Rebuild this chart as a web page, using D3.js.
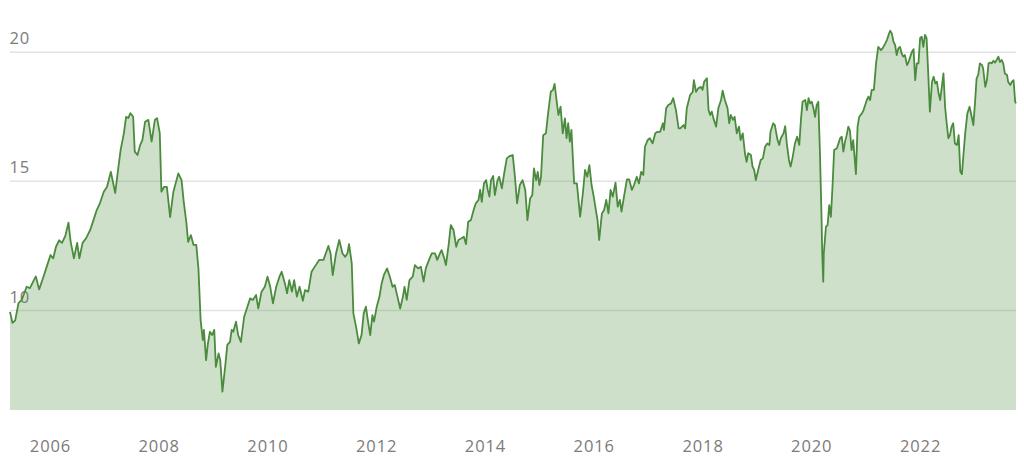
<!DOCTYPE html>
<html>
<head>
<meta charset="utf-8">
<script src="https://cdn.jsdelivr.net/npm/d3@7"></script>
<style>
  html, body { margin: 0; padding: 0; background: #ffffff; }
  svg { display: block; }
  .lbl { font-family: "Open Sans", "Noto Sans", sans-serif; font-size: 16.5px; fill: #7b7b7b; letter-spacing: 0.9px; }
</style>
</head>
<body>
<svg id="chart" width="1024" height="462"></svg>
<script>
// Decimal years of each observation
const dates = [
  2005.264, 2005.31, 2005.36, 2005.42, 2005.48, 2005.57, 2005.63, 2005.69, 2005.74, 2005.80, 2005.88, 2005.94,
  2006.01, 2006.06, 2006.11, 2006.17, 2006.22, 2006.28, 2006.34, 2006.38, 2006.44, 2006.50, 2006.54, 2006.60,
  2006.67, 2006.74, 2006.80, 2006.86, 2006.92, 2006.99, 2007.05, 2007.12, 2007.20, 2007.26, 2007.30, 2007.36,
  2007.40, 2007.44, 2007.48, 2007.53, 2007.56, 2007.61, 2007.66, 2007.70, 2007.75, 2007.81, 2007.87, 2007.93,
  2007.97, 2008.02, 2008.05, 2008.10, 2008.15, 2008.21, 2008.27, 2008.36, 2008.42, 2008.46, 2008.51, 2008.54,
  2008.59, 2008.64, 2008.69, 2008.73, 2008.77, 2008.81, 2008.83, 2008.87, 2008.90, 2008.94, 2008.98, 2009.02,
  2009.05, 2009.10, 2009.13, 2009.17, 2009.22, 2009.26, 2009.31, 2009.34, 2009.37, 2009.42, 2009.46, 2009.51,
  2009.57, 2009.63, 2009.68, 2009.73, 2009.79, 2009.83, 2009.89, 2009.95, 2010.00, 2010.05, 2010.10, 2010.16,
  2010.22, 2010.26, 2010.32, 2010.36, 2010.40, 2010.45, 2010.49, 2010.54, 2010.59, 2010.65, 2010.69, 2010.75,
  2010.81, 2010.87, 2010.95, 2011.03, 2011.12, 2011.16, 2011.20, 2011.26, 2011.32, 2011.38, 2011.43, 2011.47,
  2011.50, 2011.55, 2011.58, 2011.63, 2011.68, 2011.73, 2011.77, 2011.81, 2011.85, 2011.89, 2011.93, 2011.96,
  2012.01, 2012.06, 2012.10, 2012.14, 2012.20, 2012.25, 2012.30, 2012.34, 2012.39, 2012.44, 2012.49, 2012.52,
  2012.56, 2012.61, 2012.67, 2012.71, 2012.77, 2012.82, 2012.87, 2012.91, 2012.98, 2013.02, 2013.08, 2013.12,
  2013.17, 2013.20, 2013.25, 2013.28, 2013.33, 2013.37, 2013.42, 2013.47, 2013.51, 2013.56, 2013.61, 2013.65,
  2013.69, 2013.74, 2013.79, 2013.83, 2013.88, 2013.91, 2013.94, 2013.98, 2014.02, 2014.05, 2014.08, 2014.11,
  2014.15, 2014.18, 2014.23, 2014.26, 2014.31, 2014.35, 2014.40, 2014.45, 2014.51, 2014.55, 2014.59, 2014.64,
  2014.69, 2014.74, 2014.78, 2014.83, 2014.87, 2014.90, 2014.94, 2014.97, 2015.00, 2015.03, 2015.07, 2015.12,
  2015.16, 2015.21, 2015.25, 2015.28, 2015.32, 2015.35, 2015.39, 2015.43, 2015.47, 2015.50, 2015.53, 2015.56,
  2015.59, 2015.64, 2015.69, 2015.75, 2015.80, 2015.84, 2015.88, 2015.92, 2015.96, 2016.00, 2016.04, 2016.07,
  2016.10, 2016.15, 2016.19, 2016.23, 2016.27, 2016.31, 2016.35, 2016.40, 2016.44, 2016.48, 2016.51, 2016.56,
  2016.61, 2016.65, 2016.70, 2016.74, 2016.79, 2016.83, 2016.87, 2016.91, 2016.94, 2016.99, 2017.03, 2017.08,
  2017.13, 2017.17, 2017.22, 2017.27, 2017.29, 2017.33, 2017.37, 2017.42, 2017.46, 2017.51, 2017.56, 2017.59,
  2017.65, 2017.68, 2017.71, 2017.77, 2017.82, 2017.84, 2017.88, 2017.92, 2017.97, 2018.00, 2018.03, 2018.08,
  2018.11, 2018.14, 2018.17, 2018.20, 2018.25, 2018.29, 2018.34, 2018.37, 2018.41, 2018.46, 2018.49, 2018.52,
  2018.56, 2018.59, 2018.63, 2018.67, 2018.70, 2018.74, 2018.78, 2018.81, 2018.84, 2018.89, 2018.92, 2018.95,
  2018.98, 2019.03, 2019.07, 2019.11, 2019.15, 2019.19, 2019.23, 2019.25, 2019.30, 2019.33, 2019.38, 2019.41,
  2019.44, 2019.49, 2019.52, 2019.55, 2019.59, 2019.62, 2019.66, 2019.70, 2019.74, 2019.78, 2019.81, 2019.84,
  2019.89, 2019.92, 2019.95, 2019.98, 2020.01, 2020.04, 2020.07, 2020.10, 2020.13, 2020.16, 2020.19, 2020.20,
  2020.22, 2020.23, 2020.27, 2020.30, 2020.33, 2020.36, 2020.39, 2020.42, 2020.47, 2020.50, 2020.53, 2020.56,
  2020.59, 2020.62, 2020.65, 2020.68, 2020.71, 2020.74, 2020.77, 2020.82, 2020.85, 2020.88, 2020.93, 2020.96,
  2020.99, 2021.02, 2021.05, 2021.08, 2021.11, 2021.15, 2021.19, 2021.23, 2021.28, 2021.31, 2021.36, 2021.39,
  2021.42, 2021.45, 2021.48, 2021.51, 2021.54, 2021.57, 2021.60, 2021.63, 2021.66, 2021.69, 2021.72, 2021.76,
  2021.79, 2021.82, 2021.85, 2021.88, 2021.91, 2021.94, 2021.97, 2022.00, 2022.03, 2022.06, 2022.09, 2022.12,
  2022.15, 2022.18, 2022.22, 2022.25, 2022.28, 2022.31, 2022.34, 2022.37, 2022.40, 2022.43, 2022.46, 2022.49,
  2022.52, 2022.55, 2022.58, 2022.61, 2022.64, 2022.68, 2022.71, 2022.74, 2022.77, 2022.80, 2022.83, 2022.87,
  2022.91, 2022.95, 2022.98, 2023.01, 2023.04, 2023.07, 2023.10, 2023.14, 2023.16, 2023.20, 2023.23, 2023.26,
  2023.29, 2023.32, 2023.35, 2023.38, 2023.41, 2023.44, 2023.47, 2023.50, 2023.53, 2023.56, 2023.60, 2023.62,
  2023.66, 2023.69, 2023.72, 2023.75, 2023.765
];

const values = [
  9.93, 9.5, 9.6, 10.27, 10.39, 10.9, 10.85, 11.1, 11.3, 10.8, 11.29, 11.68,
  12.13, 12.0, 12.45, 12.7, 12.6, 12.86, 13.38, 12.65, 12.0, 12.6, 12.0, 12.6,
  12.8, 13.1, 13.48, 13.87, 14.14, 14.58, 14.77, 15.35, 14.53, 15.55, 16.2, 16.85,
  17.48, 17.43, 17.62, 17.48, 16.13, 16.0, 16.39, 16.58, 17.29, 17.36, 16.52, 17.36,
  17.43, 16.85, 14.58, 14.77, 14.77, 13.6, 14.58, 15.29, 15.03, 14.19, 13.35, 12.64,
  12.9, 12.52, 12.52, 11.6, 9.6, 8.84, 9.23, 8.06, 8.65, 9.16, 9.03, 9.23,
  7.8, 8.32, 8.06, 6.84, 7.8, 8.65, 8.77, 9.23, 9.16, 9.55, 9.03, 8.77,
  9.74, 10.13, 10.45, 10.39, 10.58, 10.06, 10.71, 10.9, 11.29, 10.9, 10.26, 10.9,
  11.29, 11.48, 11.03, 10.65, 11.16, 10.71, 11.16, 10.52, 10.9, 10.36, 10.77, 10.71,
  11.48, 11.68, 11.94, 11.94, 12.48, 12.19, 11.35, 12.19, 12.71, 12.19, 12.06, 12.19,
  12.55, 11.81, 9.87, 9.35, 8.71, 9.03, 9.87, 10.13, 9.55, 9.03, 9.8, 9.55,
  10.13, 10.52, 11.03, 11.35, 11.61, 11.29, 10.9, 10.97, 10.52, 10.06, 10.52, 10.9,
  10.39, 11.16, 11.29, 11.74, 11.61, 11.68, 11.1, 11.61, 12.0, 12.19, 12.19, 11.94,
  12.19, 12.32, 12.0, 11.74, 12.52, 13.29, 13.1, 12.45, 12.71, 12.77, 12.84, 12.55,
  13.42, 13.48, 13.87, 14.13, 14.26, 14.65, 14.19, 14.9, 15.03, 14.65, 14.39, 15.03,
  15.19, 14.45, 15.03, 15.16, 14.71, 15.26, 15.87, 15.96, 16.0, 15.16, 14.13, 14.84,
  15.03, 14.65, 13.48, 14.32, 14.45, 15.48, 15.03, 15.35, 14.84, 15.16, 16.77, 16.84,
  17.61, 18.45, 18.52, 18.75, 18.06, 17.55, 17.87, 16.84, 17.42, 16.65, 17.23, 16.52,
  16.97, 14.9, 14.9, 13.61, 14.52, 15.42, 15.16, 15.61, 14.84, 14.39, 13.87, 13.48,
  12.71, 13.74, 13.87, 14.26, 13.74, 14.65, 14.39, 14.93, 14.0, 14.26, 13.81, 14.45,
  15.06, 15.06, 14.65, 14.84, 15.16, 14.9, 15.35, 15.23, 16.32, 16.58, 16.65, 16.45,
  16.84, 16.9, 16.9, 17.23, 16.97, 17.81, 17.94, 18.0, 18.2, 17.74, 17.03, 17.03,
  17.16, 17.03, 17.81, 18.32, 18.45, 18.9, 18.45, 18.58, 18.64, 18.52, 18.84, 18.97,
  17.74, 17.55, 17.68, 17.42, 17.1, 17.81, 18.13, 18.49, 18.13, 17.81, 17.23, 17.55,
  17.36, 17.48, 16.84, 17.1, 16.58, 16.84, 16.07, 15.74, 16.07, 16.0, 15.55, 15.42,
  15.03, 15.48, 15.81, 15.87, 16.32, 16.45, 16.39, 16.9, 17.23, 17.16, 16.58, 16.39,
  16.65, 16.84, 17.12, 16.45, 15.81, 15.55, 15.94, 16.45, 16.71, 16.39, 17.36, 18.06,
  18.13, 17.74, 18.2, 18.0, 18.06, 17.81, 17.48, 17.94, 18.06, 16.07, 13.48, 12.32,
  11.1, 12.19, 13.23, 13.29, 14.06, 13.61, 14.77, 16.19, 16.26, 16.45, 16.65, 16.71,
  16.13, 16.52, 16.77, 17.1, 16.95, 16.19, 16.58, 15.26, 17.1, 17.48, 17.61, 17.74,
  17.94, 18.13, 18.26, 18.13, 18.52, 18.52, 19.55, 20.19, 20.06, 20.13, 20.32, 20.45,
  20.65, 20.81, 20.71, 20.39, 20.26, 19.87, 20.13, 20.19, 19.94, 19.81, 19.87, 19.48,
  19.61, 19.81, 20.0, 20.1, 18.9, 19.55, 19.55, 20.52, 20.58, 20.19, 20.65, 20.52,
  19.16, 17.68, 18.84, 19.03, 18.77, 18.84, 18.39, 18.13, 18.64, 19.16, 17.87, 17.23,
  16.65, 16.77, 17.1, 17.23, 16.45, 16.39, 16.77, 15.35, 15.26, 16.07, 16.84, 17.61,
  17.87, 17.48, 17.16, 18.0, 18.97, 19.1, 19.55, 19.48, 19.35, 18.64, 18.9, 19.55,
  19.58, 19.55, 19.65, 19.58, 19.68, 19.81, 19.6, 19.68, 19.55, 19.16, 19.1, 18.84,
  18.71, 18.84, 18.9, 18.06, 18.0
];

const yTicks = [10, 15, 20];
const yDomain = [6.13, 20];

// ---- rendering ----
const left = 10, right = 1016, bottom = 410, top20 = 51.7;

function toDate(y) {
  const yr = Math.floor(y);
  const s = new Date(yr, 0, 1), e = new Date(yr + 1, 0, 1);
  return new Date(+s + (y - yr) * (e - s));
}

const data = dates.map((d, i) => ({ date: toDate(d), value: values[i] }));

const svg = d3.select("#chart");

const x = d3.scaleTime().domain(d3.extent(data, d => d.date)).range([left, right]);
const y = d3.scaleLinear().domain(yDomain).range([bottom, top20]);

// gridlines + y labels
const yAxis = d3.axisRight(y).tickValues(yTicks).tickSize(right - left).tickFormat(d3.format("d"));
const gy = svg.append("g").attr("transform", `translate(${left},0)`).call(yAxis);
gy.select(".domain").remove();
gy.selectAll(".tick line").attr("stroke", "#e3e3e3").attr("stroke-width", 1.5);
gy.selectAll(".tick text")
  .attr("class", "lbl")
  .attr("x", -0.5)
  .attr("dy", -8)
  .attr("text-anchor", "start")
  .attr("fill", null);
gy.attr("font-family", null).attr("font-size", null);

// area
const area = d3.area().x(d => x(d.date)).y0(bottom).y1(d => y(d.value));
svg.append("path").datum(data)
  .attr("d", area)
  .attr("fill", "#4e8f41")
  .attr("fill-opacity", 0.28);

// line
const line = d3.line().x(d => x(d.date)).y(d => y(d.value));
svg.append("path").datum(data)
  .attr("d", line)
  .attr("fill", "none")
  .attr("stroke", "#4a8b3d")
  .attr("stroke-width", 1.8)
  .attr("stroke-linejoin", "round");

// x axis labels
const xAxis = d3.axisBottom(x).ticks(d3.timeYear.every(2)).tickSize(0).tickFormat(d3.timeFormat("%Y"));
const gx = svg.append("g").attr("transform", `translate(0,${bottom})`).call(xAxis);
gx.select(".domain").remove();
gx.attr("font-family", null).attr("font-size", null);
gx.selectAll(".tick text")
  .attr("class", "lbl")
  .attr("fill", null)
  .attr("y", 41.5)
  .attr("dy", null);
</script>
</body>
</html>
